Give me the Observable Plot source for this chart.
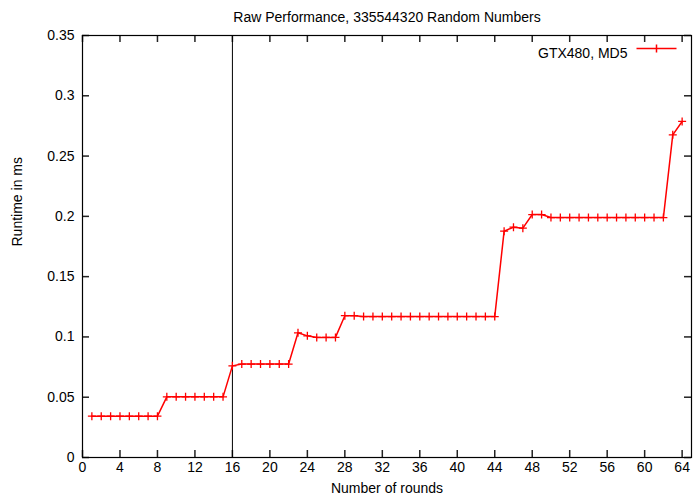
<!DOCTYPE html>
<html>
<head>
<meta charset="utf-8">
<script src="https://cdn.jsdelivr.net/npm/d3@7"></script>
<script src="https://cdn.jsdelivr.net/npm/@observablehq/plot@0.6"></script>
<style>
  html, body { margin: 0; padding: 0; background: #fff; }
  #chart svg { display: block; }
</style>
</head>
<body>
<div id="chart"></div>
<script>
const title = "Raw Performance, 335544320 Random Numbers";
const xLabel = "Number of rounds";
const yLabel = "Runtime in ms";
const seriesName = "GTX480, MD5";

const rounds = [
  1, 2, 3, 4, 5, 6, 7, 8, 9, 10, 11, 12, 13, 14, 15, 16,
  17, 18, 19, 20, 21, 22, 23, 24, 25, 26, 27, 28, 29, 30, 31, 32,
  33, 34, 35, 36, 37, 38, 39, 40, 41, 42, 43, 44, 45, 46, 47, 48,
  49, 50, 51, 52, 53, 54, 55, 56, 57, 58, 59, 60, 61, 62, 63, 64
];
const runtime = [
  0.0343, 0.0343, 0.0343, 0.0343, 0.0343, 0.0343, 0.0343, 0.0343,
  0.0503, 0.0503, 0.0503, 0.0503, 0.0503, 0.0503, 0.0503, 0.0760,
  0.0775, 0.0775, 0.0775, 0.0775, 0.0775, 0.0775, 0.1034, 0.1009,
  0.0996, 0.0996, 0.0996, 0.1176, 0.1176, 0.1169, 0.1169, 0.1169,
  0.1169, 0.1169, 0.1169, 0.1169, 0.1169, 0.1169, 0.1169, 0.1169,
  0.1169, 0.1169, 0.1169, 0.1169, 0.1877, 0.1910, 0.1902, 0.2015,
  0.2015, 0.1990, 0.1990, 0.1990, 0.1990, 0.1990, 0.1990, 0.1990,
  0.1990, 0.1990, 0.1990, 0.1990, 0.1990, 0.1990, 0.2676, 0.2787
];
const xTicks = [0, 4, 8, 12, 16, 20, 24, 28, 32, 36, 40, 44, 48, 52, 56, 60, 64];
const yTicks = [0, 0.05, 0.1, 0.15, 0.2, 0.25, 0.3, 0.35];
const markerRound = [16];
const xDomain = [0, 65];
const yDomain = [0, 0.35];

const data = rounds.map((r, i) => ({round: r, t: runtime[i]}));

const W = 695, H = 499;
const mT = 35, mB = 42, mL = 82, mR = 4;
const frameW = W - mL - mR, frameH = H - mT - mB;
const tickLen = 7;

const plusSymbol = {
  draw(ctx, size) {
    const r = Math.sqrt(size / Math.PI);
    ctx.moveTo(-r, 0); ctx.lineTo(r, 0);
    ctx.moveTo(0, -r); ctx.lineTo(0, r);
  }
};
const legendSymbol = {
  draw(ctx, size) {
    const r = Math.sqrt(size / Math.PI);
    ctx.moveTo(-20, 0); ctx.lineTo(20, 0);
    ctx.moveTo(0, -r); ctx.lineTo(0, r);
  }
};

const red = "#ff0000";
const tickColor = "#222";
const tickW = 1.5;

const chart = Plot.plot({
  width: W,
  height: H,
  marginTop: mT,
  marginBottom: mB,
  marginLeft: mL,
  marginRight: mR,
  style: {fontFamily: "'Liberation Sans', Arial, sans-serif", fontSize: "14px", color: "#000", background: "#fff"},
  x: {domain: xDomain, label: null},
  y: {domain: yDomain, label: null},
  marks: [
    Plot.axisX(xTicks, {tickSize: 0, tickPadding: 5, fontSize: 14, label: null}),
    Plot.axisY(yTicks, {tickSize: 0, tickPadding: 8, fontSize: 14, label: null, tickFormat: d => String(+d.toFixed(2))}),
    // inward tick marks on all four sides
    Plot.tickX(xTicks, {x: d => d, insetTop: frameH - tickLen, stroke: tickColor, strokeWidth: tickW}),
    Plot.tickX(xTicks, {x: d => d, insetBottom: frameH - tickLen, stroke: tickColor, strokeWidth: tickW}),
    Plot.tickY(yTicks, {y: d => d, insetRight: frameW - tickLen, stroke: tickColor, strokeWidth: tickW}),
    Plot.tickY(yTicks, {y: d => d, insetLeft: frameW - tickLen, stroke: tickColor, strokeWidth: tickW}),
    Plot.ruleX(markerRound, {stroke: "#000", strokeWidth: 1}),
    Plot.line(data, {x: "round", y: "t", stroke: red, strokeWidth: 1.5}),
    Plot.dot(data, {x: "round", y: "t", symbol: plusSymbol, r: 4, stroke: red, strokeWidth: 1.3, fill: "none"}),
    Plot.frame({stroke: "#000", strokeWidth: 1.2}),
    // legend
    Plot.text([seriesName], {frameAnchor: "top-right", dx: -64, dy: 13, textAnchor: "end", fontSize: 14, fill: "#000"}),
    Plot.dot([seriesName], {frameAnchor: "top-right", dx: -35, dy: 13, symbol: legendSymbol, r: 4, stroke: red, strokeWidth: 1.5, fill: "none"}),
    // titles
    Plot.text([title], {frameAnchor: "top", dy: -23, fontSize: 14, fill: "#000"}),
    Plot.text([xLabel], {frameAnchor: "bottom", dy: 35, fontSize: 14, fill: "#000"}),
    Plot.text([yLabel], {frameAnchor: "left", dx: -65, rotate: -90, fontSize: 14, fill: "#000"})
  ]
});
document.getElementById("chart").append(chart);
</script>
</body>
</html>
